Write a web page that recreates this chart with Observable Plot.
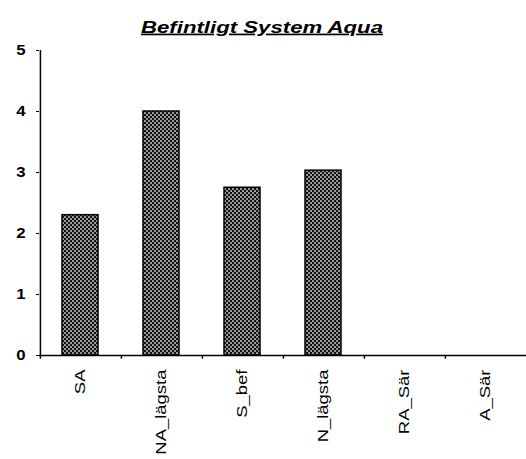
<!DOCTYPE html>
<html><head><meta charset="utf-8">
<script src="https://cdn.jsdelivr.net/npm/d3@7"></script>
<script src="https://cdn.jsdelivr.net/npm/@observablehq/plot@0.6"></script>
<style>body{margin:0;background:#fff}</style>
</head><body><div id="c"></div>
<script>
const categories = ["SA","NA_lägsta","S_bef","N_lägsta","RA_Sär","A_Sär"];
const values = [2.3, 4.0, 2.75, 3.03, 0, 0];
const yTicks = [0,1,2,3,4,5];
const title = "Befintligt System Aqua";

const data = categories.map((c,i)=>({cat:c, v:values[i]}));
const W = 526, ML = 39, MR = 0;
const bw = (W-ML-MR)/categories.length;

const chart = Plot.plot({
  width: W, height: 459,
  marginLeft: ML, marginRight: MR, marginTop: 50, marginBottom: 104,
  style: {fontFamily: "Liberation Sans, Arial, sans-serif", fontSize: "12px", color: "#000", background: "#fff"},
  x: {domain: categories, padding: 0, label: null},
  y: {domain: [0,5], label: null},
  marks: [
    Plot.barY(data, {x:"cat", y:"v", fill:"url(#hatch)", stroke:"#000", strokeWidth:1.5, insetLeft:22, insetRight:23}),
    Plot.axisY({ticks: yTicks, tickSize: 3, tickPadding: 11, fontSize: 14, fontWeight: "bold", tickFormat: d3.format("d"), className: "yax"}),
    Plot.ruleX([categories[0]], {x: d=>d, dx: -bw/2, y1: 0, y2: 5, stroke:"#000", strokeWidth: 1.5}),
    Plot.ruleY([0], {stroke:"#000", strokeWidth: 1.5}),
    Plot.ruleX(categories, {x: d=>d, dx: -bw/2, y1: 0, y2: -0.06, stroke:"#000", strokeWidth: 1.5}),
    Plot.axisX({tickSize: 0, tickRotate: -90, tickPadding: 14, fontSize: 14, textAnchor: "end", className: "xax"}),
    Plot.text([title], {frameAnchor: "top", dx: -21, dy: -30, fontSize: 17, fontStyle: "italic", fontWeight: "bold", text: d=>d, className: "ttl"})
  ]
});
const svg = d3.select(chart);
const defs = svg.insert("defs", ":first-child");
const p = defs.append("pattern").attr("id","hatch").attr("patternUnits","userSpaceOnUse").attr("width",4).attr("height",4);
p.append("rect").attr("width",4).attr("height",4).attr("fill","#111");
[[0,0],[2,2]].forEach(([x,y])=>p.append("rect").attr("x",x+0.3).attr("y",y+0.3).attr("width",1.5).attr("height",1.5).attr("fill","#fff"));
svg.selectAll(".ttl text").style("text-decoration","underline").attr("textLength", 242).attr("lengthAdjust","spacingAndGlyphs");
svg.selectAll(".xax text").each(function(){ const t = this.getAttribute("transform") || ""; this.setAttribute("transform", t + " scale(1.32,1)"); });
svg.selectAll(".yax text").each(function(){ const t = this.getAttribute("transform") || ""; this.setAttribute("transform", t + " scale(1.2,1)"); });
document.getElementById("c").appendChild(chart);
</script></body></html>
